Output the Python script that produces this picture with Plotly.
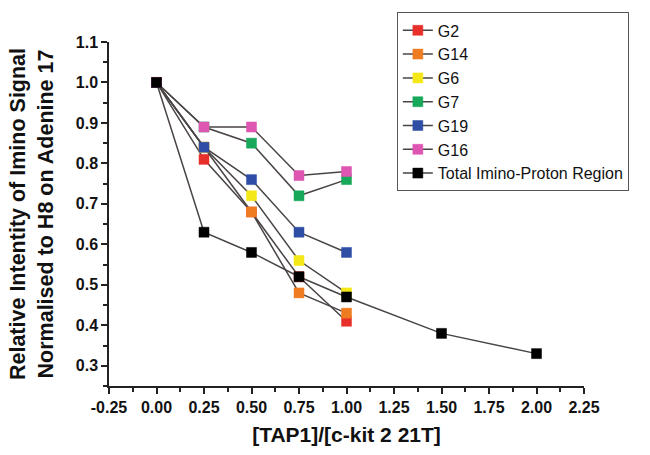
import plotly.graph_objects as go

x_ratio = [0.0, 0.25, 0.5, 0.75, 1.0]
g2 = [1.0, 0.81, 0.68, 0.52, 0.41]
g14 = [1.0, 0.84, 0.68, 0.48, 0.43]
g6 = [1.0, 0.84, 0.72, 0.56, 0.48]
g7 = [1.0, 0.89, 0.85, 0.72, 0.76]
g19 = [1.0, 0.84, 0.76, 0.63, 0.58]
g16 = [1.0, 0.89, 0.89, 0.77, 0.78]
x_total = [0.0, 0.25, 0.5, 0.75, 1.0, 1.5, 2.0]
total = [1.0, 0.63, 0.58, 0.52, 0.47, 0.38, 0.33]

x_ticks = [-0.25, 0.0, 0.25, 0.5, 0.75, 1.0, 1.25, 1.5, 1.75, 2.0, 2.25]
y_ticks = [0.3, 0.4, 0.5, 0.6, 0.7, 0.8, 0.9, 1.0, 1.1]

series = [
    ("G2", x_ratio, g2, "#e8302a"),
    ("G14", x_ratio, g14, "#f07c22"),
    ("G6", x_ratio, g6, "#f4e818"),
    ("G7", x_ratio, g7, "#17a85a"),
    ("G19", x_ratio, g19, "#2e4ea6"),
    ("G16", x_ratio, g16, "#de55b2"),
    ("Total Imino-Proton Region", x_total, total, "#000000"),
]

fig = go.Figure()
for name, xs, ys, col in series:
    fig.add_trace(go.Scatter(
        x=xs, y=ys, name=name, mode="lines+markers",
        line=dict(color="#4a4444", width=1.5),
        marker=dict(symbol="square", size=10, color=col,
                    line=dict(color=col, width=0.5)),
    ))

font = "Liberation Sans"
axis_common = dict(showgrid=False, zeroline=False, showline=True, linecolor="#222222",
                   linewidth=1.5, ticks="outside", ticklen=6, tickwidth=1.5,
                   tickcolor="#222222", tickfont=dict(size=16, family=font, color="#111111"))
fig.update_layout(
    width=650, height=455,
    margin=dict(l=109, r=66, t=42, b=63),
    paper_bgcolor="white", plot_bgcolor="white",
    font=dict(family=font, color="#111111"),
    legend=dict(x=0.606, y=1.086, xanchor="left", yanchor="top",
                bordercolor="#555555", borderwidth=1, bgcolor="white",
                font=dict(size=16, family=font, color="#111111"),
                tracegroupgap=0, itemwidth=30),
    xaxis=dict(range=[-0.25, 2.25],
               tickvals=x_ticks, ticktext=["<b>%.2f</b>" % v for v in x_ticks],
               minor=dict(tick0=-0.125, dtick=0.25, ticks="outside", ticklen=4, tickwidth=1.5,
                          tickcolor="#222222", showgrid=False),
               title=dict(text="<b>[TAP1]/[c-kit 2 21T]</b>", standoff=12,
                          font=dict(size=21, family=font, color="#111111")),
               **axis_common),
    yaxis=dict(range=[0.25, 1.1],
               tickvals=y_ticks, ticktext=["<b>%.1f</b>" % v for v in y_ticks],
               minor=dict(tick0=0.25, dtick=0.1, ticks="outside", ticklen=4, tickwidth=1.5,
                          tickcolor="#222222", showgrid=False),
               title=dict(text="<b>Relative Intentity of Imino Signal<br>Normalised to H8 on Adenine 17</b>",
                          standoff=16,
                          font=dict(size=21.5, family=font, color="#111111")),
               **axis_common),
)

fig.write_html("out.html")
